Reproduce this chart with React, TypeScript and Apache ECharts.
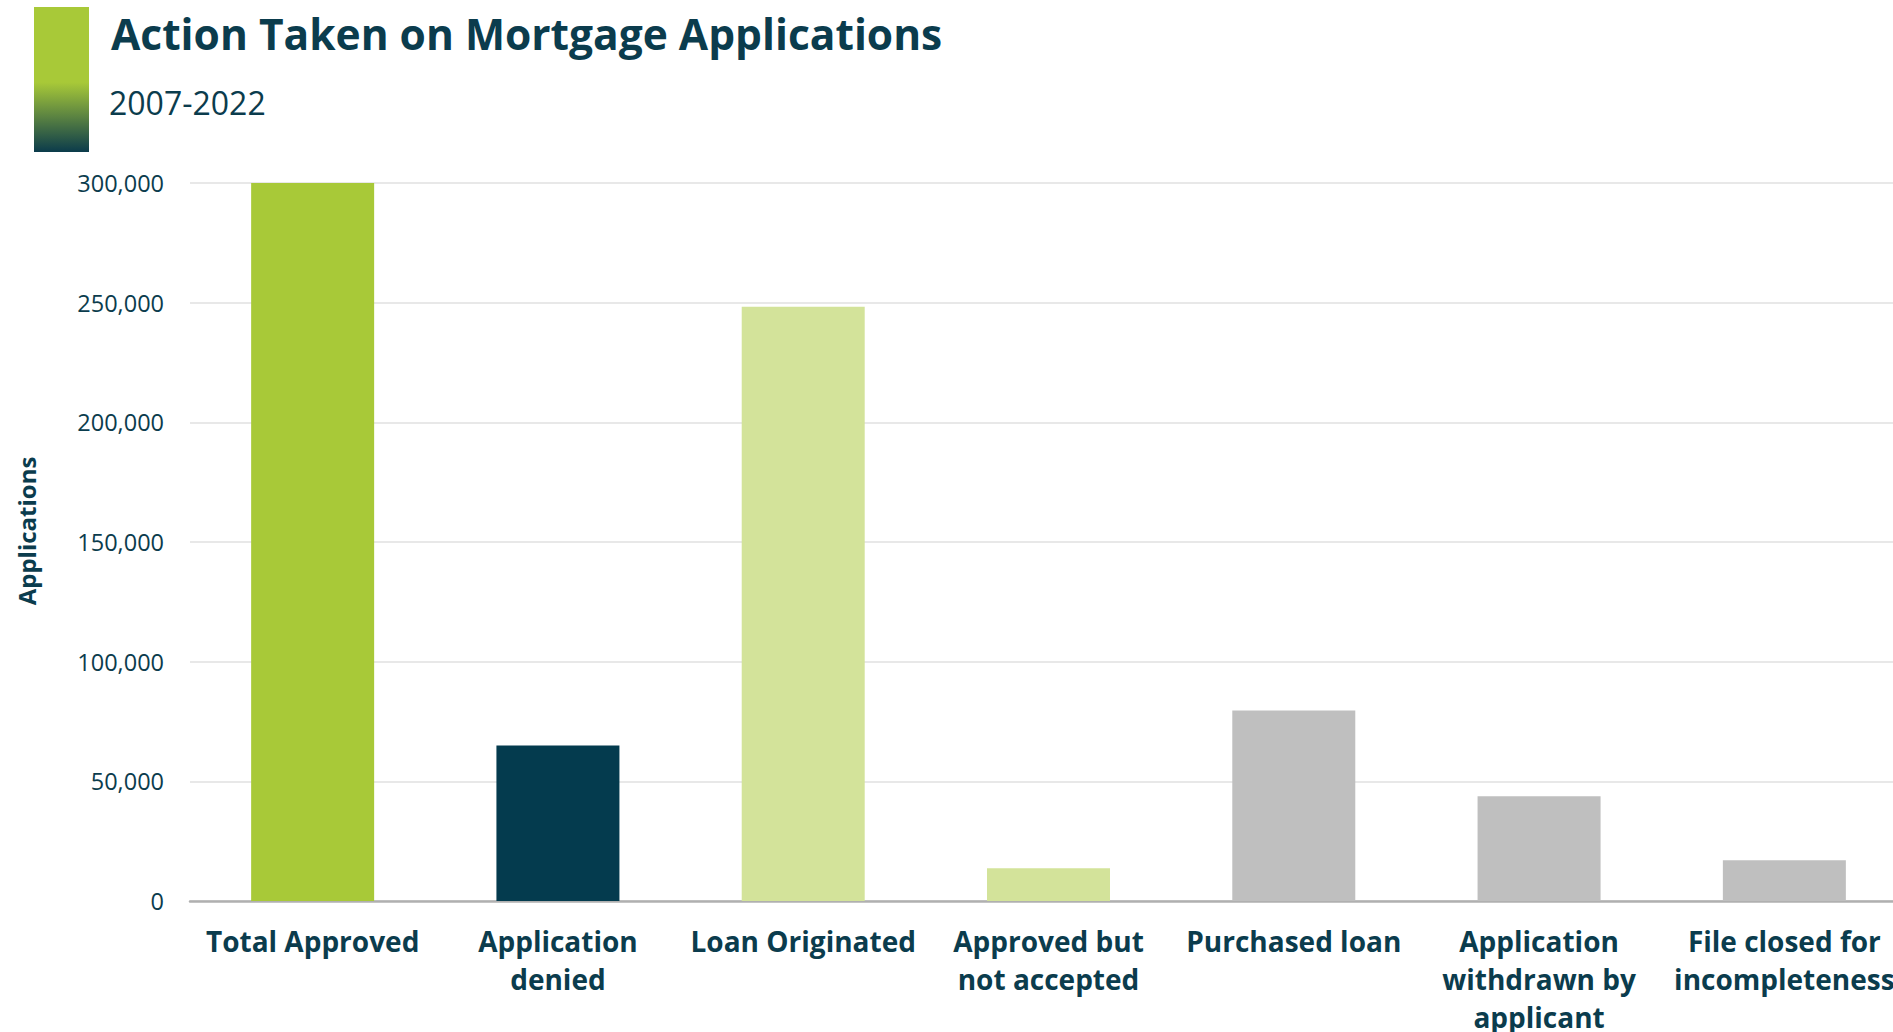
import React, { useEffect, useRef } from "react";
import * as echarts from "echarts";

const categories = [
  "Total Approved",
  "Application\ndenied",
  "Loan Originated",
  "Approved but\nnot accepted",
  "Purchased loan",
  "Application\nwithdrawn by\napplicant",
  "File closed for\nincompleteness",
];

const applications = [300000, 65000, 248300, 13700, 79600, 43800, 17000];

const yTicks = { min: 0, max: 300000, interval: 50000 };

const titleText = "Action Taken on Mortgage Applications";
const subtitleText = "2007-2022";
const yAxisName = "Applications";

const palette = ["#a8c938", "#043b4e", "#d3e39a", "#d3e39a", "#bfbfbf", "#bfbfbf", "#bfbfbf"];
const TEXT = "#0b3c4d";
const FONT = "'Open Sans', 'Noto Sans', sans-serif";

export default function App() {
  const ref = useRef<HTMLDivElement>(null);

  useEffect(() => {
    if (!ref.current) return;
    const chart = echarts.init(ref.current, undefined, { renderer: "svg" });
    chart.setOption({
      animation: false,
      backgroundColor: "#ffffff",
      textStyle: { fontFamily: FONT },
      grid: {
        left: 190,
        right: 13,
        top: 183,
        bottom: 131,
        containLabel: false,
        outerBoundsMode: "none",
      },
      xAxis: {
        type: "category",
        data: categories,
        axisLine: { show: true, lineStyle: { color: "#b0b0b0", width: 2.5 } },
        axisTick: { show: false },
        axisLabel: {
          interval: 0,
          margin: 20.5,
          color: TEXT,
          fontFamily: FONT,
          fontWeight: "bold",
          fontSize: 28,
          lineHeight: 38,
          align: "center",
          verticalAlign: "top",
        },
      },
      yAxis: {
        type: "value",
        min: yTicks.min,
        max: yTicks.max,
        interval: yTicks.interval,
        axisLine: { show: false },
        axisTick: { show: false },
        splitLine: { show: true, lineStyle: { color: "#e8e8e8", width: 2 } },
        axisLabel: {
          margin: 26,
          color: TEXT,
          fontFamily: FONT,
          fontSize: 23.5,
          formatter: (v: number) => v.toLocaleString("en-US"),
        },
      },
      series: [
        {
          type: "bar",
          barWidth: 123,
          data: applications.map((v, i) => ({ value: v, itemStyle: { color: palette[i] } })),
        },
      ],
      graphic: [
        {
          type: "rect",
          shape: { x: 34, y: 7, width: 55, height: 145 },
          style: {
            fill: new echarts.graphic.LinearGradient(0, 0, 0, 1, [
              { offset: 0, color: "#a8c938" },
              { offset: 0.52, color: "#a8c938" },
              { offset: 1, color: "#0b3b4b" },
            ]),
          },
        },
        {
          type: "text",
          x: 111,
          y: 33,
          style: {
            text: titleText,
            fill: TEXT,
            font: `bold 42.5px ${FONT}`,
            textAlign: "left",
            textVerticalAlign: "middle",
          },
        },
        {
          type: "text",
          x: 109,
          y: 102,
          style: {
            text: subtitleText,
            fill: TEXT,
            font: `32px ${FONT}`,
            textAlign: "left",
            textVerticalAlign: "middle",
          },
        },
        {
          type: "text",
          x: 26,
          y: 531,
          rotation: Math.PI / 2,
          style: {
            text: yAxisName,
            fill: TEXT,
            font: `bold 24px ${FONT}`,
            textAlign: "center",
            textVerticalAlign: "middle",
          },
        },
      ],
    });
    return () => chart.dispose();
  }, []);

  return (
    <div
      style={{
        position: "fixed",
        left: 0,
        top: 0,
        width: "100vw",
        height: "100vh",
        overflow: "hidden",
        background: "#fff",
      }}
    >
      <div ref={ref} style={{ width: 1920, height: 1032 }} />
    </div>
  );
}
